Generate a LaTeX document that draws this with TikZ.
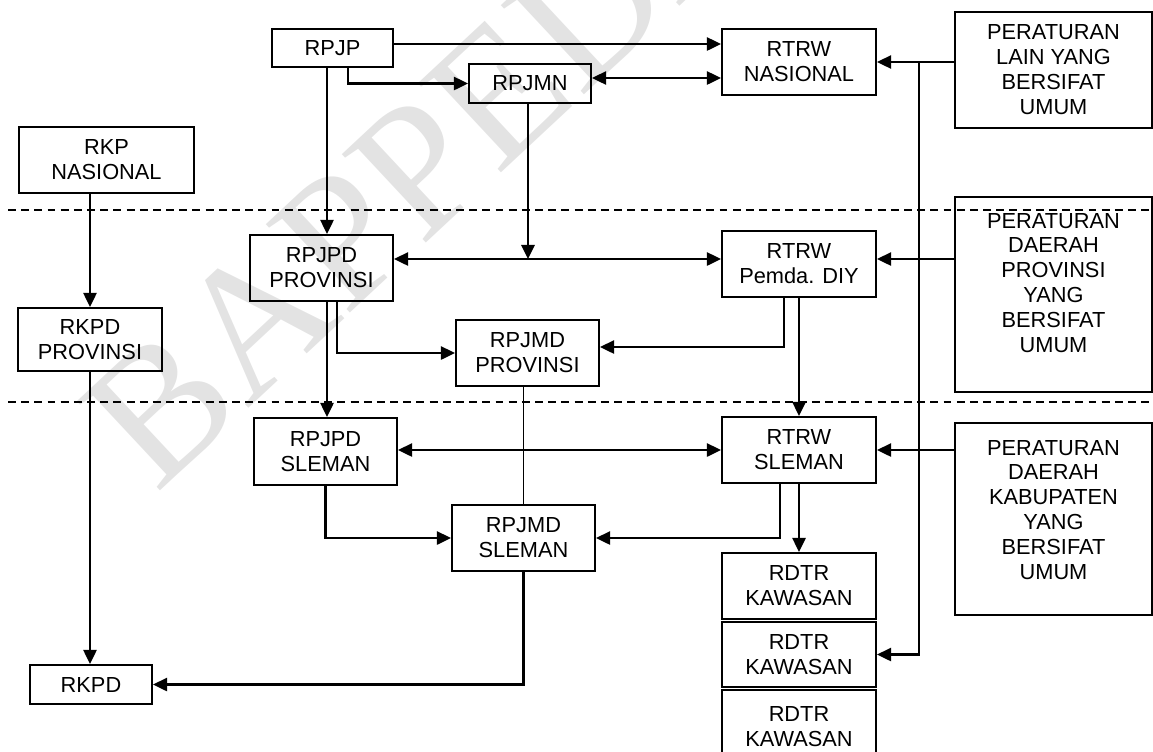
\documentclass[tikz,border=0pt]{standalone}
\usepackage{fontspec}
\setmainfont{Liberation Sans}
\newfontfamily\markfont{Liberation Serif}
\usepackage{tikz}
\usetikzlibrary{arrows.meta, positioning, calc}
\tikzstyle{connArrow} = [line width=1.3pt,-{Triangle[length=8pt,width=7.5pt]}]
\tikzstyle{bothArrow} = [line width=1.3pt,{Triangle[length=8pt,width=7.5pt]}-{Triangle[length=8pt,width=7.5pt]}]
\tikzstyle{connLine} = [line width=0.7pt]
\tikzstyle{levelLine} = [line width=0.8pt,dash pattern=on 4.5pt off 3pt]
\tikzset{
planBox/.style={draw,line width=1.2pt,inner sep=0pt,align=center,font=\fontsize{12.4}{14.2}\selectfont},
boxSize/.style 2 args={minimum width=#1*0.02cm,minimum height=#2*0.02cm},
ruleText/.style={inner sep=0pt,align=center,font=\fontsize{12.4}{14.2}\selectfont}
}

\begin{document}
\begin{tikzpicture}[x=0.02cm,y=-0.02cm]
\useasboundingbox (0,0) rectangle (1153,751);
\clip (0,0) rectangle (1153,751);
%----------------------------------------------------------------------------
% Watermark
\node (markText) [text=gray!22,rotate=43,font=\markfont\fontsize{106}{106}\selectfont] at (425,160) {BAPPEDA};

%----------------------------------------------------------------------------
% Level separators
\coordinate (levelOneL) at (8,210);
\coordinate (levelOneR) at (1153,210);
\coordinate (levelTwoL) at (8,402);
\coordinate (levelTwoR) at (1153,402);
\draw [levelLine] (levelOneL) -- (levelOneR);
\draw [levelLine] (levelTwoL) -- (levelTwoR);

%----------------------------------------------------------------------------
% Placement of flowcart nodes
\node (rpjp) [planBox, boxSize={121}{38}] at (332.5,48) {RPJP};
\node (rpjmn) [planBox, boxSize={122}{39}] at (530,83.5) {RPJMN};
\node (rtrwNas) [planBox, boxSize={154}{66}] at (799,62) {RTRW\\NASIONAL};
\node (perLain) [planBox, boxSize={197}{116}] at (1053.5,70) {PERATURAN\\LAIN YANG\\BERSIFAT\\UMUM};

\node (rkpNas) [planBox, boxSize={175}{66}] at (106.5,160) {RKP\\NASIONAL};
\node (rkpdProv) [planBox, boxSize={144}{63}] at (90,339.5) {RKPD\\PROVINSI};
\node (rkpd) [planBox, boxSize={122}{39}] at (91,684.5) {RKPD};

\node (rpjpdProv) [planBox, boxSize={143}{66}] at (321.5,268) {RPJPD\\PROVINSI};
\node (rtrwDiy) [planBox, boxSize={154}{66}] at (799,264) {RTRW\\Pemda. DIY};
\node (perProv) [planBox, boxSize={197}{195}] at (1053.5,294.5) {};
\node (perProvText) [ruleText] at (1053.5,283) {PERATURAN\\DAERAH\\PROVINSI\\YANG\\BERSIFAT\\UMUM};
\node (rpjmdProv) [planBox, boxSize={143}{66}] at (527.5,353) {RPJMD\\PROVINSI};

\node (rpjpdSle) [planBox, boxSize={143}{67}] at (325.5,451.5) {RPJPD\\SLEMAN};
\node (rtrwSle) [planBox, boxSize={154}{66}] at (799,450) {RTRW\\SLEMAN};
\node (perKab) [planBox, boxSize={197}{192}] at (1053.5,519) {};
\node (perKabText) [ruleText] at (1053.5,510) {PERATURAN\\DAERAH\\KABUPATEN\\YANG\\BERSIFAT\\UMUM};
\node (rpjmdSle) [planBox, boxSize={143}{66}] at (523.5,538) {RPJMD\\SLEMAN};

\node (rdtrOne) [planBox, boxSize={154}{66}] at (799,586) {RDTR\\KAWASAN};
\node (rdtrTwo) [planBox, boxSize={154}{65}] at (799,654.5) {RDTR\\KAWASAN};
\node (rdtrThree) [planBox, boxSize={154}{74}] at (799,727) {RDTR\\KAWASAN};

%----------------------------------------------------------------------------
% Lines
\coordinate (rpjpFoot) at ($(rpjp.south)+(-5.5,0)$);
\coordinate (midLink) at (528,259);
\coordinate (spineTop) at (919,62);

\draw [connArrow] ($(rpjp.east)+(0,-4)$) -- ($(rpjp.east -| rtrwNas.west)+(0,-4)$);
\draw [connArrow] ($(rpjp.south)+(15.5,0)$) |- (rpjmn.west);
\draw [bothArrow] ($(rpjmn.east)+(0,-5.5)$) -- ($(rpjmn.east -| rtrwNas.west)+(0,-5.5)$);
\draw [connArrow] (perLain.west |- rtrwNas.east) -- (rtrwNas.east);
\draw [connArrow] (spineTop) |- (rdtrTwo.east);

\draw [connArrow] (rkpNas.south -| rkpdProv.north) -- (rkpdProv.north);
\draw [connArrow] (rkpdProv.south) -- (rkpdProv.south |- rkpd.north);

\draw [connArrow] (rpjpFoot) -- (rpjpFoot |- rpjpdProv.north);
\draw [bothArrow] (rpjpdProv.east |- midLink) -- (rtrwDiy.west |- midLink);
\draw [connArrow] (rpjmn.south -| midLink) -- (midLink);
\draw [connArrow] (perProv.west |- midLink) -- (rtrwDiy.east |- midLink);
\draw [connArrow] ($(rpjpdProv.south)+(15.5,0)$) |- (rpjmdProv.west);
\draw [connArrow] ($(rtrwDiy.south)+(-15,0)$) |- ($(rpjmdProv.east)+(0,-6)$);
\draw [connArrow] (rtrwDiy.south) -- (rtrwSle.north);

\draw [connArrow] (rpjpFoot |- rpjpdProv.south) -- (rpjpFoot |- rpjpdSle.north);
\draw [bothArrow] (rpjpdSle.east |- rtrwSle.west) -- (rtrwSle.west);
\draw [connLine] (rpjmdProv.south -| rpjmdSle.north) -- (rpjmdSle.north);
\draw [connArrow] (rpjpdSle.south) |- (rpjmdSle.west);
\draw [connArrow] ($(rtrwSle.south)+(-19,0)$) |- (rpjmdSle.east);
\draw [connArrow] (rtrwSle.south) -- (rdtrOne.north);
\draw [connArrow] (perKab.west |- rtrwSle.east) -- (rtrwSle.east);
\draw [connArrow] (rpjmdSle.south) |- (rkpd.east);

%----------------------------------------------------------------------------
% Notes


\end{tikzpicture}
\end{document}
